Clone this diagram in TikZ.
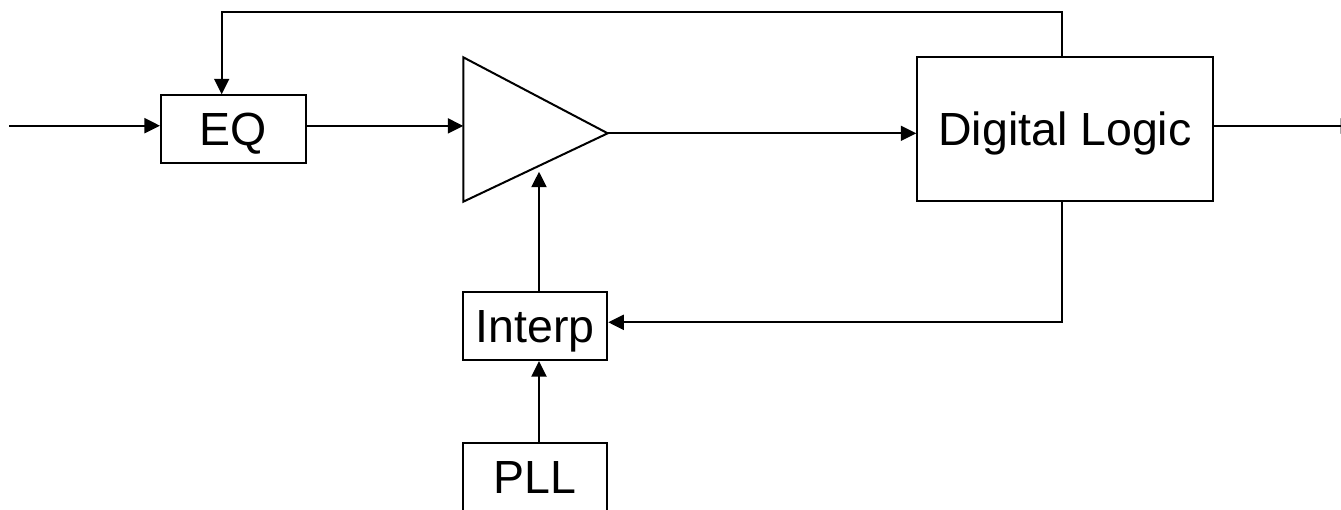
\documentclass[tikz,border=0pt]{standalone}
\usepackage{fontspec}
\setmainfont{Liberation Sans}
\usetikzlibrary{arrows.meta,calc}
\begin{document}
\begin{tikzpicture}[x=1pt,y=-1pt,
  line width=2pt,
  arr/.style={-{Triangle[length=15.5pt,width=15pt]}},
  blk/.style={draw,rectangle,inner sep=0pt,text height=33pt,text depth=0pt,
    font=\fontsize{46.5}{50}\selectfont}]
\useasboundingbox (0,0) rectangle (1341,509);
% blocks
\node[blk,minimum width=144.7pt,minimum height=68pt] (EQ) at (233.3,129.3) {EQ};
\node[blk,minimum width=295.4pt,minimum height=143.7pt] (DL) at (1065,129.2) {Digital Logic};
\node[blk,minimum width=144pt,minimum height=67.7pt] (IN) at (535.3,326.2) {Interp};
\node[blk,minimum width=144pt,minimum height=68pt] (PLL) at (535.3,476.7) {PLL};
% amplifier triangle
\coordinate (ampT) at (463.3,57.3);
\coordinate (ampB) at (463.3,201.7);
\coordinate (ampO) at (607.7,133.3);
\draw[line join=miter] (ampT) -- (ampO) -- (ampB) -- cycle;
\coordinate (ampIn) at (463.3,125.9);
\coordinate (ampCtl) at (539,171.7);
% connectors
\coordinate (src) at (9.3,125.7);
\draw[arr] (src) -- (src -| EQ.west);
\draw[arr] (EQ.east |- ampIn) -- (ampIn);
\draw[arr] (ampO) -- (ampO -| DL.west);
\coordinate (sink) at (1356,126);
\draw[arr] (DL.east |- sink) -- (sink);
\coordinate (fbTop) at (1061.7,12.3);
\coordinate (eqTop) at (221.7,12.3);
\draw[arr] (fbTop |- DL.north) -- (fbTop) -- (eqTop) -- (eqTop |- EQ.north);
\coordinate (fbBot) at (1061.7,322.3);
\draw[arr] (fbBot |- DL.south) -- (fbBot) -- (fbBot -| IN.east);
\draw[arr] (PLL.north -| ampCtl) -- (IN.south -| ampCtl);
\draw[arr] (IN.north -| ampCtl) -- (ampCtl);
\end{tikzpicture}
\end{document}
